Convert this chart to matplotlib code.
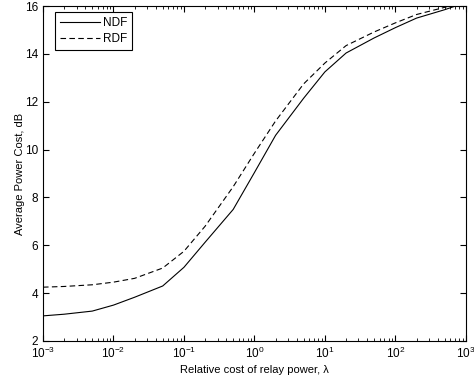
import numpy as np
import matplotlib
matplotlib.use('Agg')
import matplotlib.pyplot as plt
from matplotlib.ticker import LogLocator, NullFormatter

plt.rcParams['font.family'] = ['Liberation Sans', 'DejaVu Sans']
plt.rcParams['font.size'] = 8

# relative cost of relay power (lambda) and average power cost in dB
lam = [1e-3, 2e-3, 5e-3, 1e-2, 2e-2, 5e-2, 0.1, 0.2, 0.5, 1, 2, 5, 10, 20, 50, 100, 200, 500, 1000]
ndf = [3.05, 3.12, 3.25, 3.5, 3.83, 4.3, 5.08, 6.13, 7.5, 9.04, 10.6, 12.15, 13.25, 14.04, 14.67, 15.1, 15.5, 15.85, 16.15]
rdf = [4.25, 4.28, 4.35, 4.46, 4.62, 5.05, 5.75, 6.8, 8.45, 9.85, 11.2, 12.75, 13.62, 14.35, 14.92, 15.3, 15.65, 15.95, 16.2]

fig = plt.figure(figsize=(4.74, 3.84), dpi=100)
ax = fig.add_axes([0.0907, 0.112, 0.892, 0.872])

ax.semilogx(lam, ndf, 'k-', lw=0.8, label='NDF')
ax.semilogx(lam, rdf, 'k--', lw=0.8, dashes=(5, 3), label='RDF')

ax.set_xlim(1e-3, 1e3)
ax.set_ylim(2, 16)
ax.set_yticks(range(2, 17, 2))
ax.xaxis.set_minor_locator(LogLocator(base=10, subs=np.arange(2, 10), numticks=20))
ax.xaxis.set_minor_formatter(NullFormatter())
ax.tick_params(which='both', direction='in', top=True, right=True, labelsize=8.5)
ax.tick_params(which='major', length=4)
ax.tick_params(which='minor', length=2)
for s in ax.spines.values():
    s.set_linewidth(0.8)

ax.set_xlabel('Relative cost of relay power, λ', labelpad=3)
ax.set_ylabel('Average Power Cost, dB', labelpad=0)

leg = ax.legend(loc='upper left', bbox_to_anchor=(0.028, 0.982), fancybox=False,
                edgecolor='k', framealpha=1, borderaxespad=0, handlelength=3.4,
                handletextpad=0.3, borderpad=0.4, labelspacing=0.35, fontsize=8.5)
leg.get_frame().set_linewidth(0.8)

fig.savefig('out.png', dpi=100)
